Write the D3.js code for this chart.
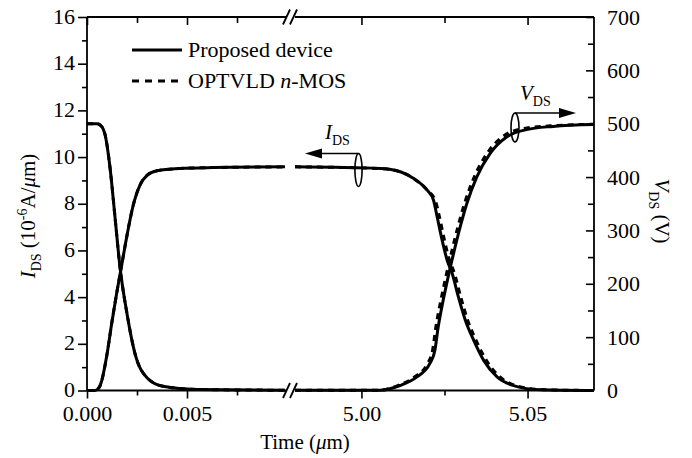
<!DOCTYPE html>
<html>
<head>
<meta charset="utf-8">
<script src="https://cdn.jsdelivr.net/npm/d3@7"></script>
<style>
  html, body { margin: 0; padding: 0; background: #fff; }
  svg { display: block; }
  text { font-family: "Liberation Serif", "Times New Roman", serif; fill: #000; }
</style>
</head>
<body>
<svg id="chart" width="692" height="458"></svg>
<script>
// ---------------- data ----------------
// Time in microseconds; axis is broken between 0.01 and 4.98
// Proposed device, V_DS (right axis, V) — first segment
const propV1_t = [0, 0.0005, 0.00075, 0.0009, 0.00115, 0.0014, 0.00165, 0.002, 0.0024, 0.003, 0.0038, 0.0055, 0.0099];
const propV1   = [500, 500, 494, 480, 418, 325, 231, 144, 69, 24, 8, 2, 0.5];
// Proposed device, I_DS (left axis, 1e-6 A/um) — first segment
const propI1_t = [0, 0.0004, 0.0006, 0.00074, 0.00099, 0.00124, 0.00149, 0.00174, 0.00199, 0.0023, 0.00265, 0.003, 0.0035, 0.00465, 0.0063, 0.0099];
const propI1   = [0, 0, 0.12, 0.43, 1.5, 2.9, 4.2, 5.4, 6.6, 7.9, 8.8, 9.22, 9.41, 9.51, 9.55, 9.58];
// OPTVLD n-MOS — first segment (indistinguishable from proposed device)
const optV1_t = [0, 0.0005, 0.00075, 0.0009, 0.00115, 0.0014, 0.00165, 0.002, 0.0024, 0.003, 0.0038, 0.0055, 0.0099];
const optV1   = [500, 500, 494, 480, 418, 325, 231, 144, 69, 24, 8, 2, 0.5];
const optI1_t = [0, 0.0004, 0.0006, 0.00074, 0.00099, 0.00124, 0.00149, 0.00174, 0.00199, 0.0023, 0.00265, 0.003, 0.0035, 0.00465, 0.0063, 0.0099];
const optI1   = [0, 0, 0.12, 0.43, 1.5, 2.9, 4.2, 5.4, 6.6, 7.9, 8.8, 9.22, 9.41, 9.51, 9.55, 9.58];

// Second segment (4.98 – 5.07 us)
const propI2_t = [4.98, 5.0057, 5.0117, 5.0156, 5.0198, 5.0217, 5.0228, 5.0243, 5.0258, 5.0273, 5.0292, 5.0313, 5.0338, 5.0368, 5.0409, 5.0458, 5.054, 5.07];
const propI2   = [9.58, 9.51, 9.37, 9.09, 8.58, 8.15, 7.43, 6.43, 5.58, 5.02, 4.0, 3.0, 2.15, 1.29, 0.57, 0.21, 0.03, 0.0];
const propV2_t = [4.98, 5.0056, 5.0116, 5.0166, 5.0206, 5.0221, 5.0231, 5.0246, 5.0261, 5.0277, 5.0297, 5.0317, 5.0347, 5.0387, 5.0437, 5.0497, 5.0577, 5.07];
const propV2   = [0.5, 0.5, 9.4, 25, 50.7, 75, 119, 169, 213, 256, 306, 350, 400, 444, 475, 489, 495, 498.6];
const optI2_t = [4.98, 5.0057, 5.0117, 5.0156, 5.0198, 5.0222, 5.0235, 5.025, 5.0265, 5.028, 5.0299, 5.032, 5.0345, 5.0376, 5.0418, 5.0468, 5.0552, 5.07];
const optI2   = [9.58, 9.51, 9.37, 9.09, 8.58, 8.15, 7.43, 6.43, 5.58, 5.02, 4.0, 3.0, 2.15, 1.29, 0.57, 0.2, 0.03, 0.0];
const optV2_t = [4.98, 5.0056, 5.011, 5.0159, 5.0199, 5.0214, 5.0224, 5.0239, 5.0254, 5.027, 5.029, 5.031, 5.034, 5.038, 5.043, 5.049, 5.057, 5.07];
const optV2   = [0.5, 0.5, 9.4, 25, 50.7, 75, 119, 169, 213, 256, 306, 350, 401, 446, 478, 491, 496, 499];

// tick labels
const xMajor1 = [0, 0.005], xMinor1 = [0.0025, 0.0075];
const xMajor2 = [5.00, 5.05], xMinor2 = [5.025];
const yLeftMajor = [0, 2, 4, 6, 8, 10, 12, 14, 16];
const yLeftMinor = [1, 3, 5, 7, 9, 11, 13, 15];
const yRightMajor = [0, 100, 200, 300, 400, 500, 600, 700];
const yRightMinor = [50, 150, 250, 350, 450, 550, 650];

const legendLabels = ["Proposed device", "OPTVLD n-MOS"];

// ---------------- layout ----------------
const svg = d3.select("#chart");
const L = 87, R = 594, T = 17, B = 390.5;
const x1 = d3.scaleLinear().domain([0, 0.01]).range([L, 287]);
const x2 = d3.scaleLinear().domain([4.98, 5.07]).range([295, R]);
const xs = t => (t < 1 ? x1(t) : x2(t));
const yL = d3.scaleLinear().domain([0, 16]).range([B, T]);
const yR = d3.scaleLinear().domain([0, 700]).range([B, T]);

const FS = 21, TFS = 22;
const font = g => g.selectAll("text").attr("font-size", TFS).attr("font-family", '"Liberation Serif", "Times New Roman", serif');
const tickStyle = g => { g.select(".domain").remove(); g.selectAll("line").attr("stroke", "#000").attr("stroke-width", 1.6); };

// left axis
svg.append("g").attr("transform", `translate(${L},0)`)
  .call(d3.axisLeft(yL).tickValues(yLeftMajor).tickSize(9).tickPadding(3).tickFormat(d3.format("d")))
  .call(tickStyle).call(font)
  .call(g => g.selectAll("text").attr("dy", "0.28em"));
svg.append("g").attr("transform", `translate(${L},0)`)
  .call(d3.axisLeft(yL).tickValues(yLeftMinor).tickSize(5).tickFormat(""))
  .call(tickStyle);
// right axis (ticks inward)
svg.append("g").attr("transform", `translate(${R},0)`)
  .call(d3.axisRight(yR).tickValues(yRightMajor).tickSize(-8).tickPadding(13).tickFormat(d3.format("d")))
  .call(tickStyle).call(font);
svg.append("g").attr("transform", `translate(${R},0)`)
  .call(d3.axisRight(yR).tickValues(yRightMinor).tickSize(-6).tickFormat(""))
  .call(tickStyle);
// bottom axes
svg.append("g").attr("transform", `translate(0,${B})`)
  .call(d3.axisBottom(x1).tickValues(xMajor1).tickSize(8).tickPadding(7).tickFormat(d3.format(".3f")))
  .call(tickStyle).call(font);
svg.append("g").attr("transform", `translate(0,${B})`)
  .call(d3.axisBottom(x1).tickValues(xMinor1).tickSize(5).tickFormat(""))
  .call(tickStyle);
svg.append("g").attr("transform", `translate(0,${B})`)
  .call(d3.axisBottom(x2).tickValues(xMajor2).tickSize(8).tickPadding(7).tickFormat(d3.format(".2f")))
  .call(tickStyle).call(font);
svg.append("g").attr("transform", `translate(0,${B})`)
  .call(d3.axisBottom(x2).tickValues(xMinor2).tickSize(5).tickFormat(""))
  .call(tickStyle);
// top axes (ticks inward)
[[x1, xMajor1, 8], [x1, xMinor1, 6], [x2, xMajor2, 8], [x2, xMinor2, 6]].forEach(([sc, vals, len]) => {
  svg.append("g").attr("transform", `translate(0,${T})`)
    .call(d3.axisTop(sc).tickValues(vals).tickSize(-len).tickFormat(""))
    .call(tickStyle);
});

// frame with breaks
const frame = svg.append("g").attr("stroke", "#000").attr("stroke-width", 1.8).attr("fill", "none");
frame.append("line").attr("x1", L).attr("y1", T).attr("x2", L).attr("y2", B);
frame.append("line").attr("x1", R).attr("y1", T).attr("x2", R).attr("y2", B);
[T, B].forEach(yy => {
  frame.append("line").attr("x1", L).attr("y1", yy).attr("x2", 287).attr("y2", yy);
  frame.append("line").attr("x1", 295).attr("y1", yy).attr("x2", R).attr("y2", yy);
  [286.5, 293.5].forEach(cx => {
    frame.append("line").attr("x1", cx - 3.5).attr("y1", yy + 7.5).attr("x2", cx + 3.5).attr("y2", yy - 7.5)
      .attr("stroke-width", 1.8);
  });
});

// ---------------- curves ----------------
const zip = (ts, vs) => ts.map((t, i) => [t, vs[i]]);
const lineL = d3.line().x(d => xs(d[0])).y(d => yL(d[1])).curve(d3.curveMonotoneX);
const lineR = d3.line().x(d => xs(d[0])).y(d => yR(d[1])).curve(d3.curveMonotoneX);

const curves = svg.append("g").attr("fill", "none").attr("stroke", "#000").attr("stroke-linejoin", "round");
curves.append("path").attr("d", lineR(zip(propV1_t, propV1))).attr("stroke-width", 3);
curves.append("path").attr("d", lineL(zip(propI1_t, propI1))).attr("stroke-width", 3);
curves.append("path").attr("d", lineR(zip(propV2_t, propV2))).attr("stroke-width", 3);
curves.append("path").attr("d", lineL(zip(propI2_t, propI2))).attr("stroke-width", 3);
const dash = "6,5";
curves.append("path").attr("d", lineR(zip(optV1_t, optV1))).attr("stroke-width", 3).attr("stroke-dasharray", dash);
curves.append("path").attr("d", lineL(zip(optI1_t, optI1))).attr("stroke-width", 3).attr("stroke-dasharray", dash);
curves.append("path").attr("d", lineR(zip(optV2_t, optV2))).attr("stroke-width", 3).attr("stroke-dasharray", dash);
curves.append("path").attr("d", lineL(zip(optI2_t, optI2))).attr("stroke-width", 3).attr("stroke-dasharray", dash);

// ---------------- legend ----------------
const leg = svg.append("g");
[[50, null], [81, "7,6"]].forEach(([yy, da]) => {
  const ln = leg.append("line").attr("x1", 132).attr("x2", 182).attr("y1", yy).attr("y2", yy)
    .attr("stroke", "#000").attr("stroke-width", 3);
  if (da) ln.attr("stroke-dasharray", da);
});
leg.append("text").attr("x", 188).attr("y", 57).attr("font-size", FS + 1).text(legendLabels[0]);
const t2 = leg.append("text").attr("x", 188).attr("y", 88).attr("font-size", FS + 1);
t2.append("tspan").text("OPTVLD ");
t2.append("tspan").attr("font-style", "italic").text("n");
t2.append("tspan").text("-MOS");

// ---------------- annotations ----------------
const ann = svg.append("g").attr("stroke", "#000").attr("fill", "none").attr("stroke-width", 1.6);
// I_DS marker
ann.append("ellipse").attr("cx", 358.5).attr("cy", 170).attr("rx", 3.6).attr("ry", 16.5);
ann.append("line").attr("x1", 358.5).attr("y1", 153.5).attr("x2", 320).attr("y2", 153.5);
svg.append("path").attr("d", "M305,153.5 L322,148.5 L322,158.5 Z").attr("fill", "#000");
const ti = svg.append("text").attr("x", 325).attr("y", 138.5).attr("font-size", FS);
ti.append("tspan").attr("font-style", "italic").text("I");
ti.append("tspan").attr("font-size", 14).attr("dy", 6).text("DS");
// V_DS marker
ann.append("ellipse").attr("cx", 515).attr("cy", 127.5).attr("rx", 4).attr("ry", 14.5);
ann.append("line").attr("x1", 515).attr("y1", 113).attr("x2", 560).attr("y2", 113);
svg.append("path").attr("d", "M576,113 L559,108 L559,118 Z").attr("fill", "#000");
const tv = svg.append("text").attr("x", 520).attr("y", 100).attr("font-size", FS);
tv.append("tspan").attr("font-style", "italic").text("V");
tv.append("tspan").attr("font-size", 14).attr("dy", 6).text("DS");

// ---------------- axis titles ----------------
const xt = svg.append("text").attr("x", 305).attr("y", 449).attr("text-anchor", "middle").attr("font-size", FS);
xt.append("tspan").text("Time (");
xt.append("tspan").attr("font-style", "italic").text("\u03bc");
xt.append("tspan").text("m)");

const ytl = svg.append("text").attr("transform", "translate(35,216) rotate(-90)").attr("text-anchor", "middle").attr("font-size", FS);
ytl.append("tspan").attr("font-style", "italic").text("I");
ytl.append("tspan").attr("font-size", 14).attr("dy", 6).text("DS");
ytl.append("tspan").attr("dy", -6).text(" (10");
ytl.append("tspan").attr("font-size", 14).attr("dy", -8).text("-6");
ytl.append("tspan").attr("dy", 8).text("A/");
ytl.append("tspan").attr("font-style", "italic").text("\u03bc");
ytl.append("tspan").text("m)");

const ytr = svg.append("text").attr("transform", "translate(655,211) rotate(90)").attr("text-anchor", "middle").attr("font-size", FS);
ytr.append("tspan").attr("font-style", "italic").text("V");
ytr.append("tspan").attr("font-size", 14).attr("dy", 6).text("DS");
ytr.append("tspan").attr("dy", -6).text(" (V)");
</script>
</body>
</html>
